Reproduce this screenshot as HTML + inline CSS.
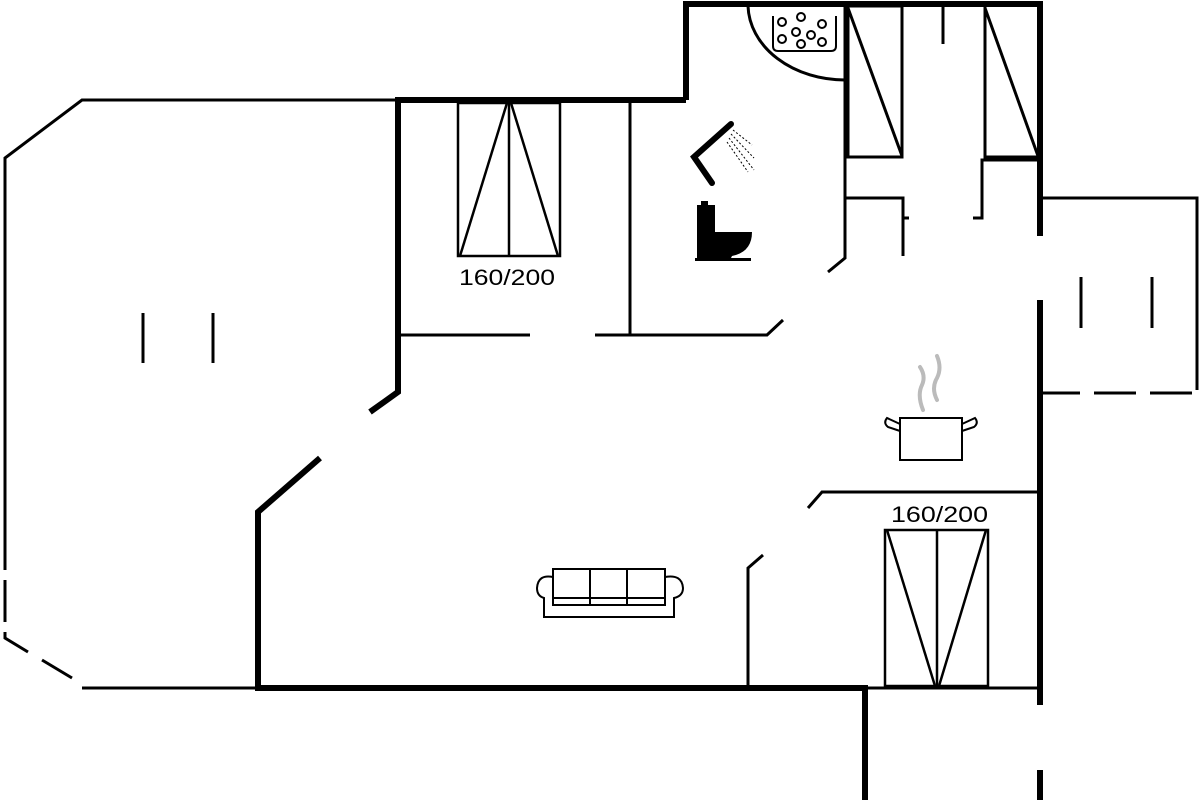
<!DOCTYPE html>
<html><head><meta charset="utf-8"><style>html,body{margin:0;padding:0;background:#fff}svg{display:block}</style></head>
<body>
<svg width="1200" height="800" viewBox="0 0 1200 800" xmlns="http://www.w3.org/2000/svg">
<g fill="none" stroke="#000" stroke-linecap="butt">
<!-- thick walls -->
<g stroke-width="6">
<polyline points="686,100 686,4 1040,4 1040,236"/>
<polyline points="395,100 686,100"/>
<polyline points="398,100 398,392 370,412"/>
<polyline points="320,458 258,512 258,688 865,688 865,800"/>
<line x1="1040" y1="300" x2="1040" y2="705"/>
<line x1="1040" y1="770" x2="1040" y2="800"/>
</g>
<!-- thin walls -->
<g stroke-width="3">
<polyline points="395,100 82,100 5,158 5,570"/>
<line x1="5" y1="580" x2="5" y2="622"/>
<polyline points="5,632 5,638 28,652"/>
<line x1="42" y1="660" x2="72" y2="678"/>
<line x1="82" y1="688" x2="258" y2="688"/>
<line x1="143" y1="313" x2="143" y2="363"/>
<line x1="213" y1="313" x2="213" y2="363"/>
<line x1="400" y1="335" x2="530" y2="335"/>
<polyline points="595,335 767,335 783,320"/>
<line x1="630" y1="100" x2="630" y2="335"/>
<polyline points="845,4 845,258 828,272"/>
<path d="M748,6 A97,76 0 0 0 845,80"/>
<rect x="848" y="6" width="54" height="151"/>
<line x1="848" y1="8" x2="902" y2="156"/>
<line x1="943" y1="4" x2="943" y2="44"/>
<polyline points="985,4 985,157 1040,157"/>
<line x1="985" y1="8" x2="1038" y2="156"/>
<polyline points="845,198 903,198 903,256"/>
<line x1="903" y1="218" x2="909" y2="218"/>
<polyline points="1040,160 982,160 982,218 973,218"/>
<polyline points="1040,198 1197,198 1197,390"/>
<line x1="1081" y1="277" x2="1081" y2="328"/>
<line x1="1152" y1="277" x2="1152" y2="328"/>
<path d="M1040,393 H1080 M1094,393 H1136 M1150,393 H1192" />
<polyline points="1040,492 822,492 808,508"/>
<polyline points="763,555 748,568 748,688"/>
<line x1="865" y1="688" x2="1040" y2="688"/>
</g>
<!-- beds -->
<g stroke-width="2.5">
<rect x="458" y="103" width="102" height="153"/>
<line x1="509" y1="103" x2="509" y2="256"/>
<line x1="507" y1="103" x2="460" y2="256"/>
<line x1="511" y1="103" x2="558" y2="256"/>
<rect x="885" y="530" width="103" height="156"/>
<line x1="937" y1="530" x2="937" y2="686"/>
<line x1="887" y1="530" x2="935" y2="686"/>
<line x1="986" y1="530" x2="939" y2="686"/>
</g>
<!-- jacuzzi -->
<g stroke-width="2">
<path d="M773,16 V46 Q773,51 778,51 H831 Q836,51 836,46 V16"/>
<circle cx="782" cy="22" r="4"/><circle cx="801" cy="17" r="4"/><circle cx="822" cy="24" r="4"/>
<circle cx="796" cy="32" r="4"/><circle cx="811" cy="35" r="4"/><circle cx="782" cy="39" r="4"/>
<circle cx="801" cy="44" r="4"/><circle cx="822" cy="42" r="4"/>
</g>
<!-- shower -->
<path d="M731,124 L694,157 L712,183" stroke-width="6" stroke-linecap="round"/>
<g stroke-width="1" stroke-dasharray="2,2">
<line x1="733" y1="130" x2="752" y2="145"/><line x1="731" y1="134" x2="754" y2="158"/>
<line x1="729" y1="138" x2="754" y2="170"/><line x1="727" y1="142" x2="748" y2="172"/>
</g>
<!-- sofa -->
<g stroke-width="2">
<rect x="553" y="569" width="112" height="36"/>
<line x1="590" y1="569" x2="590" y2="604"/><line x1="627" y1="569" x2="627" y2="604"/>
<line x1="553" y1="598" x2="665" y2="598"/>
<path d="M553,577 Q538,574 537,588 Q537,596 544,598 V617 H674 V598 Q683,596 683,588 Q682,574 665,577"/>
</g>
<!-- pot -->
<g stroke-width="2">
<rect x="900" y="418" width="62" height="42"/>
<path d="M900,424 L887,418 Q883,423 888,427 L900,431"/>
<path d="M962,424 L975,418 Q979,423 974,427 L962,431"/>
</g>
<g stroke="#bbb" stroke-width="4" stroke-linecap="round">
<path d="M923,410 Q917,395 922,385 Q926,376 920,367"/>
<path d="M937,400 Q931,388 937,378 Q942,368 937,356"/>
</g>
</g>
<!-- toilet -->
<g fill="#000">
<rect x="701" y="201" width="7" height="5"/>
<rect x="697" y="205" width="18" height="30"/>
<path d="M697,232 H752 Q752,252 732,256 L730,260 H697 Z"/>
<rect x="695" y="258" width="56" height="3"/>
</g>
<g font-family="Liberation Sans, sans-serif" font-size="22" fill="#000">
<text x="459" y="285" textLength="96" lengthAdjust="spacingAndGlyphs">160/200</text>
<text x="891" y="522" textLength="97" lengthAdjust="spacingAndGlyphs">160/200</text>
</g>
</svg>
</body></html>
